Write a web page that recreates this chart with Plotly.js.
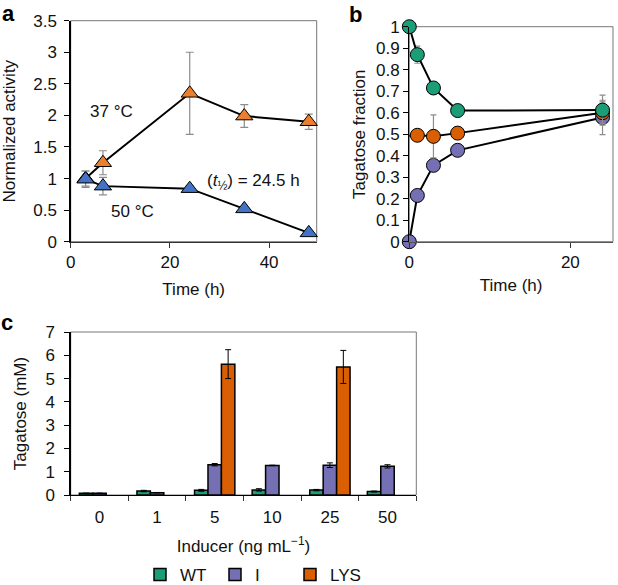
<!DOCTYPE html>
<html><head><meta charset="utf-8">
<script src="https://cdn.plot.ly/plotly-3.0.1.min.js"></script>
<style>body{margin:0;background:#fff}</style>
</head><body><div id="chart" style="width:618px;height:585px"></div>
<script>
// ---- Panel a: normalized activity vs time ----
const aTime37 = [3, 6.5, 24, 35, 48];
const aAct37  = [1.0, 1.25, 2.35, 1.99, 1.9];
const aErr37  = [0.12, 0.19, 0.65, 0.18, 0.12];
const aTime50 = [3, 6.5, 24, 35, 48];
const aAct50  = [0.99, 0.88, 0.84, 0.52, 0.14];
const aErr50  = [0.13, 0.14, 0.05, 0.02, 0.02];

// ---- Panel b: tagatose fraction vs time ----
const bTimeI   = [0, 1, 3, 6, 24];
const bFracI   = [0, 0.215, 0.355, 0.425, 0.578];
const bErrI    = [0, 0.01, 0.01, 0.01, 0.08];
const bTimeLYS = [-1, 1, 3, 6, 24];
const bFracLYS = [0.49, 0.495, 0.49, 0.505, 0.6];
const bErrLYS  = [0.01, 0.01, 0.1, 0.01, 0.05];
const bTimeWT  = [0, 1, 3, 6, 24];
const bFracWT  = [1.0, 0.87, 0.715, 0.61, 0.612];
const bErrWT   = [0, 0.04, 0.01, 0.01, 0.07];

// ---- Panel c: tagatose vs inducer ----
const inducer = ['0', '1', '5', '10', '25', '50'];
const cWT     = [0.07, 0.17, 0.2, 0.22, 0.21, 0.15];
const cWTErr  = [0.01, 0.03, 0.04, 0.05, 0.03, 0.02];
const cI      = [0.07, 0.1, 1.3, 1.27, 1.28, 1.23];
const cIErr   = [0.01, 0.01, 0.05, 0.01, 0.1, 0.07];
const cLYS    = [null, null, 5.62, null, 5.5, null];
const cLYSErr = [0, 0, 0.62, 0, 0.71, 0];

const GREEN = '#1b9e77', ORANGE = '#d95f02', PURPLE = '#7570b3';
const FONT = 'Arial, "Liberation Sans", Helvetica, sans-serif';

function lineTrace(x, y, err, color, sym, size, xa, ya, errColor, errW) {
  return {
    type: 'scatter', mode: 'lines+markers', x: x, y: y, xaxis: xa, yaxis: ya,
    showlegend: false, cliponaxis: false,
    line: {color: '#000', width: 2},
    marker: {symbol: sym, size: size, color: color, line: {color: '#000', width: 1}},
    error_y: {type: 'data', array: err, visible: true, color: errColor, thickness: 1.2, width: errW}
  };
}

const traces = [
  lineTrace(aTime37, aAct37, aErr37, '#ec7f2e', 'triangle-up', 15, 'x', 'y', '#8c8c8c', 4),
  lineTrace(aTime50, aAct50, aErr50, '#4472c4', 'triangle-up', 15, 'x', 'y', '#8c8c8c', 4),
  lineTrace(bTimeI, bFracI, bErrI, PURPLE, 'circle', 14, 'x2', 'y2', '#8c8c8c', 3),
  lineTrace(bTimeLYS, bFracLYS, bErrLYS, ORANGE, 'circle', 14, 'x2', 'y2', '#8c8c8c', 3),
  lineTrace(bTimeWT, bFracWT, bErrWT, GREEN, 'circle', 14, 'x2', 'y2', '#8c8c8c', 3),
];

function barTrace(name, y, err, color) {
  return {
    type: 'bar', name: name, x: inducer, y: y, xaxis: 'x3', yaxis: 'y3',
    marker: {color: color, line: {color: '#000', width: 1.5}},
    error_y: {type: 'data', array: err, visible: true, color: '#000', thickness: 1, width: 3}
  };
}
traces.push(barTrace('WT', cWT, cWTErr, GREEN));
traces.push(barTrace('I', cI, cIErr, PURPLE));
traces.push(barTrace('LYS', cLYS, cLYSErr, ORANGE));

const W = 618, H = 585;
const px = v => v / W, py = v => 1 - v / H;

const tickFont = {family: FONT, size: 17, color: '#111'};
const titleFont = {family: FONT, size: 17, color: '#111'};

function frame(xr, yr) {
  return {type: 'rect', xref: xr + ' domain', yref: yr + ' domain', x0: 0, x1: 1, y0: 0, y1: 1,
          line: {color: '#777', width: 1}, layer: 'below'};
}
function label(text, x, y, size, bold) {
  return {text: bold ? '<b>' + text + '</b>' : text, xref: 'paper', yref: 'paper',
          x: px(x), y: py(y), xanchor: 'center', yanchor: 'middle', showarrow: false,
          font: {family: FONT, size: size, color: bold ? '#000' : '#111'}};
}

const layout = {
  width: W, height: H, margin: {l: 0, r: 0, t: 0, b: 0, pad: 0, autoexpand: false},
  paper_bgcolor: '#fff', plot_bgcolor: '#fff',
  font: {family: FONT, size: 17, color: '#111'},
  barmode: 'group', bargap: 0.3, bargroupgap: 0,
  xaxis: {domain: [px(70.7), px(316.7)], range: [0, 49.6], dtick: 20, tick0: 0,
          showgrid: false, zeroline: false, showline: true, linecolor: '#333', linewidth: 1,
          ticks: 'outside', ticklen: 5, tickcolor: '#333', tickfont: tickFont,
          title: {text: 'Time (h)', font: titleFont, standoff: 12}, anchor: 'y'},
  yaxis: {domain: [py(241.7), py(20.7)], range: [0, 3.5], dtick: 0.5, tick0: 0,
          showgrid: false, zeroline: false, showline: true, linecolor: '#000', linewidth: 1.3,
          ticks: 'outside', ticklen: 5, tickcolor: '#000', tickfont: tickFont, ticklabelstandoff: 4,
          title: {text: 'Normalized activity', font: titleFont, standoff: 18}, anchor: 'x'},
  xaxis2: {domain: [px(409.3), px(613)], range: [0, 25.3], dtick: 20, tick0: 0,
          showgrid: false, zeroline: false, showline: true, linecolor: '#555', linewidth: 1,
          ticks: 'outside', ticklen: 5, tickcolor: '#333', tickfont: tickFont,
          title: {text: 'Time (h)', font: titleFont, standoff: 8}, anchor: 'y2'},
  yaxis2: {domain: [py(241.7), py(26.7)], range: [0, 1], dtick: 0.1, tick0: 0,
          showgrid: false, zeroline: false, showline: true, linecolor: '#000', linewidth: 1.3,
          ticks: 'outside', ticklen: 5, tickcolor: '#000', tickfont: tickFont,
          title: {text: 'Tagatose fraction', font: titleFont, standoff: 6}, anchor: 'x2'},
  xaxis3: {domain: [px(70.7), px(416.3)], type: 'category', range: [-0.5, 5.5],
          showgrid: false, zeroline: false, showline: true, linecolor: '#000', linewidth: 1.3,
          ticks: 'outside', tickson: 'boundaries', ticklen: 5, tickcolor: '#333', tickfont: tickFont,
          ticklabelstandoff: 6,
          title: {text: 'Inducer (ng mL<sup>−1</sup>)', font: titleFont, standoff: 14}, anchor: 'y3'},
  yaxis3: {domain: [py(495), py(332)], range: [0, 7], dtick: 1, tick0: 0,
          showgrid: false, zeroline: false, showline: true, linecolor: '#000', linewidth: 1.3,
          ticks: 'outside', ticklen: 5, tickcolor: '#000', tickfont: tickFont, ticklabelstandoff: 6,
          title: {text: 'Tagatose (mM)', font: titleFont, standoff: 14}, anchor: 'x3'},
  shapes: [frame('x', 'y'), frame('x2', 'y2'), frame('x3', 'y3')],
  showlegend: true,
  legend: {orientation: 'h', x: px(140), xanchor: 'left', y: -8 / H, yanchor: 'bottom',
           font: {family: FONT, size: 17, color: '#111'}, entrywidth: 30, entrywidthmode: 'pixels',
           itemwidth: 30, bgcolor: 'rgba(0,0,0,0)', traceorder: 'normal'},
  annotations: [
    label('a', 8, 13, 22, true),
    label('b', 355, 14, 22, true),
    label('c', 7, 322, 22, true),
    label('37 °C', 111, 111, 17, false),
    label('50 °C', 132, 211, 17, false),
    label('(<i>t</i><sub>½</sub>) = 24.5 h', 253, 182, 17, false)
  ]
};

Plotly.newPlot('chart', traces, layout, {displayModeBar: false, staticPlot: true});
</script></body></html>
